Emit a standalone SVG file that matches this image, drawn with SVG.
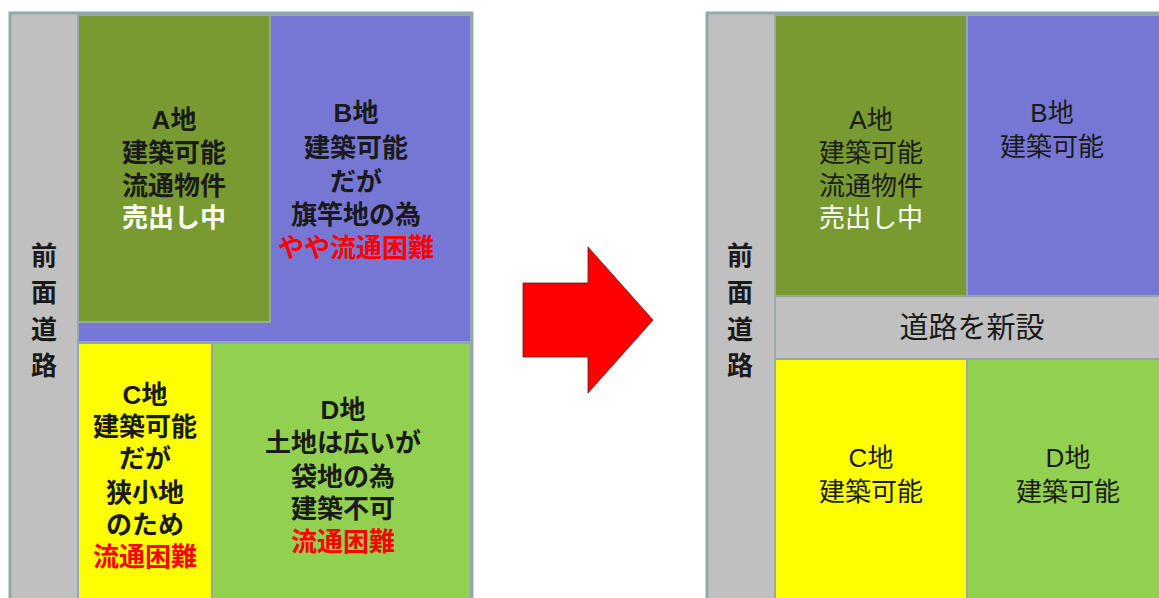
<svg xmlns="http://www.w3.org/2000/svg" width="1159" height="598" viewBox="0 0 1159 598">
<style>
.t{font-family:"Liberation Sans","Noto Sans CJK JP",sans-serif;font-size:26px;text-anchor:middle;dominant-baseline:central;fill:#1a1a1a}
.b{font-weight:bold}
.red{fill:#ff0000}
.wht{fill:#ffffff}
.cell{stroke:#93a9a9;stroke-width:2}
.road{fill:#c0c0c0}
</style>
<rect width="1159" height="598" fill="#ffffff"/>
<g id="left-panel">
  <rect id="left-frame" x="10" y="13" width="462" height="600" class="road" stroke="#93a9a9" stroke-width="3"/>
  <g id="left-road">
    <text class="t b" x="44" y="256">前</text>
    <text class="t b" x="44" y="293">面</text>
    <text class="t b" x="44" y="330">道</text>
    <text class="t b" x="44" y="366">路</text>
  </g>
  <g id="left-B">
    <polygon points="270,15 471,15 471,342 78,342 78,322 270,322" fill="#7676d4" class="cell"/>
    <text class="t b" x="356" y="113">B地</text>
    <text class="t b" x="356" y="148">建築可能</text>
    <text class="t b" x="356" y="182">だが</text>
    <text class="t b" x="356" y="215">旗竿地の為</text>
    <text class="t b red" x="356" y="248">やや流通困難</text>
  </g>
  <g id="left-A">
    <rect x="78" y="15" width="192" height="307" fill="#789a31" class="cell"/>
    <text class="t b" x="174" y="120">A地</text>
    <text class="t b" x="174" y="153">建築可能</text>
    <text class="t b" x="174" y="186">流通物件</text>
    <text class="t b wht" x="174" y="218">売出し中</text>
  </g>
  <g id="left-C">
    <rect x="78" y="343" width="134" height="270" fill="#ffff00" class="cell"/>
    <text class="t b" x="145" y="395">C地</text>
    <text class="t b" x="145" y="427">建築可能</text>
    <text class="t b" x="145" y="459">だが</text>
    <text class="t b" x="145" y="493">狭小地</text>
    <text class="t b" x="145" y="525">のため</text>
    <text class="t b red" x="145" y="557">流通困難</text>
  </g>
  <g id="left-D">
    <rect x="212" y="343" width="259" height="270" fill="#92d050" class="cell"/>
    <text class="t b" x="343" y="410">D地</text>
    <text class="t b" x="343" y="443">土地は広いが</text>
    <text class="t b" x="343" y="477">袋地の為</text>
    <text class="t b" x="343" y="509">建築不可</text>
    <text class="t b red" x="343" y="542">流通困難</text>
  </g>
</g>
<g id="connectors">
  <polygon id="arrow" points="523,283 588,283 588,247 653,320 588,393 588,357 523,357" fill="#ff0000" stroke="#5a1a1a" stroke-width="0.8"/>
</g>
<g id="right-panel">
  <rect id="right-frame" x="707" y="13" width="470" height="600" class="road" stroke="#93a9a9" stroke-width="3"/>
  <g id="right-road">
    <text class="t b" x="740" y="256">前</text>
    <text class="t b" x="740" y="293">面</text>
    <text class="t b" x="740" y="330">道</text>
    <text class="t b" x="740" y="366">路</text>
  </g>
  <g id="right-A">
    <rect x="775" y="15" width="192" height="281" fill="#789a31" class="cell"/>
    <text class="t" x="871" y="120">A地</text>
    <text class="t" x="871" y="153">建築可能</text>
    <text class="t" x="871" y="186">流通物件</text>
    <text class="t wht" x="871" y="218">売出し中</text>
  </g>
  <g id="right-B">
    <rect x="967" y="15" width="200" height="281" fill="#7676d4" class="cell"/>
    <text class="t" x="1052" y="113">B地</text>
    <text class="t" x="1052" y="147">建築可能</text>
  </g>
  <g id="new-road">
    <rect x="775" y="296" width="392" height="63" class="road cell"/>
    <text class="t" x="972" y="328" style="font-size:29px">道路を新設</text>
  </g>
  <g id="right-C">
    <rect x="775" y="359" width="192" height="254" fill="#ffff00" class="cell"/>
    <text class="t" x="871" y="458">C地</text>
    <text class="t" x="871" y="492">建築可能</text>
  </g>
  <g id="right-D">
    <rect x="967" y="359" width="200" height="254" fill="#92d050" class="cell"/>
    <text class="t" x="1068" y="458">D地</text>
    <text class="t" x="1068" y="492">建築可能</text>
  </g>
</g>
</svg>
